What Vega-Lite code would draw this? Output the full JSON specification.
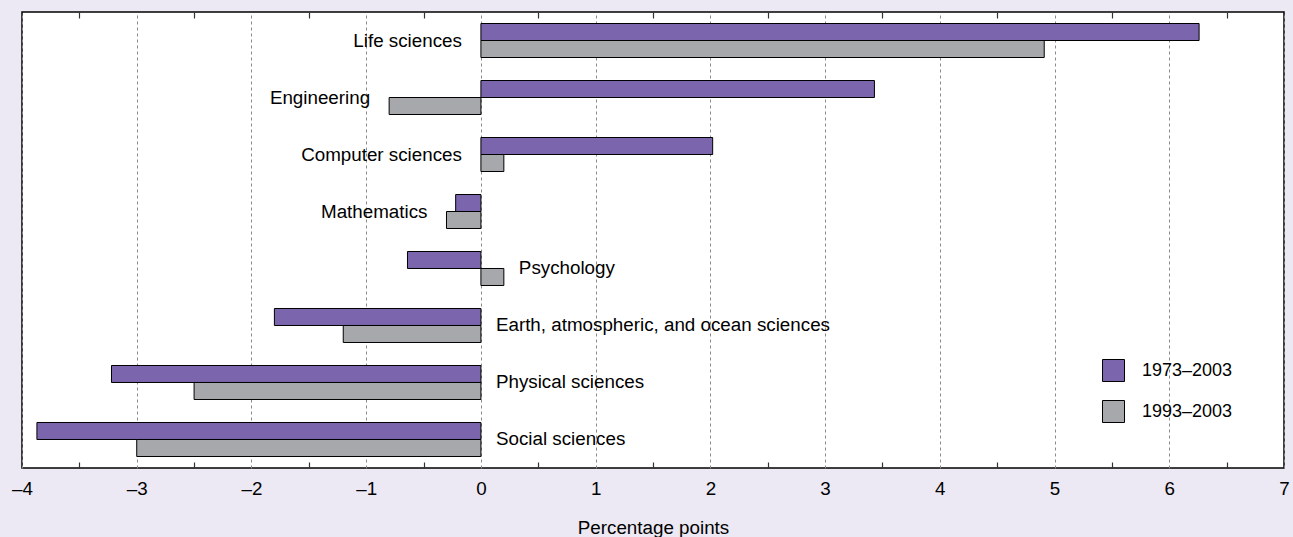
{
  "$schema": "https://vega.github.io/schema/vega-lite/v6.json",
  "width": 1262,
  "height": 456,
  "autosize": {"type": "none"},
  "padding": {"left": 22, "top": 12, "right": 9, "bottom": 69},
  "background": "#ece9f4",
  "view": {"fill": "white", "stroke": "black", "strokeWidth": 1.5},
  "config": {
    "font": "Liberation Sans",
    "text": {"font": "Liberation Sans", "fontSize": 18.8, "color": "black"},
    "legend": {"labelFont": "Liberation Sans"}
  },
  "datasets": {
    "bars": [
      {"field": "Life sciences", "period": "1973–2003", "value": 6.26},
      {"field": "Life sciences", "period": "1993–2003", "value": 4.91},
      {"field": "Engineering", "period": "1973–2003", "value": 3.43},
      {"field": "Engineering", "period": "1993–2003", "value": -0.8},
      {"field": "Computer sciences", "period": "1973–2003", "value": 2.02},
      {"field": "Computer sciences", "period": "1993–2003", "value": 0.2},
      {"field": "Mathematics", "period": "1973–2003", "value": -0.22},
      {"field": "Mathematics", "period": "1993–2003", "value": -0.3},
      {"field": "Psychology", "period": "1973–2003", "value": -0.64},
      {"field": "Psychology", "period": "1993–2003", "value": 0.2},
      {"field": "Earth, atmospheric, and ocean sciences", "period": "1973–2003", "value": -1.8},
      {"field": "Earth, atmospheric, and ocean sciences", "period": "1993–2003", "value": -1.2},
      {"field": "Physical sciences", "period": "1973–2003", "value": -3.22},
      {"field": "Physical sciences", "period": "1993–2003", "value": -2.5},
      {"field": "Social sciences", "period": "1973–2003", "value": -3.87},
      {"field": "Social sciences", "period": "1993–2003", "value": -3.0}
    ]
  },
  "layer": [
    {
      "data": {"name": "bars"},
      "mark": {"type": "bar", "stroke": "black", "strokeWidth": 1},
      "encoding": {
        "y": {
          "field": "field", "type": "nominal",
          "sort": ["Life sciences", "Engineering", "Computer sciences", "Mathematics", "Psychology", "Earth, atmospheric, and ocean sciences", "Physical sciences", "Social sciences"],
          "axis": null,
          "scale": {"paddingInner": 0.4035, "paddingOuter": 0.2018}
        },
        "yOffset": {
          "field": "period", "type": "nominal",
          "sort": ["1973–2003", "1993–2003"],
          "scale": {"paddingInner": 0, "paddingOuter": 0}
        },
        "x": {
          "field": "value", "type": "quantitative",
          "scale": {"domain": [-4, 7], "nice": false},
          "axis": {
            "orient": "bottom",
            "values": [-4, -3.5, -3, -2.5, -2, -1.5, -1, -0.5, 0, 0.5, 1, 1.5, 2, 2.5, 3, 3.5, 4, 4.5, 5, 5.5, 6, 6.5, 7],
            "labelExpr": "datum.value % 1 === 0 ? replace(replace(format(datum.value, 'd'), '−', '–'), '-', '–') : ''",
            "labelFontSize": 18.8,
            "labelColor": "black",
            "labelFont": "Liberation Sans",
            "labelPadding": 17.5,
            "labelFlush": false,
            "domain": false,
            "grid": true,
            "gridDash": [3, 3],
            "gridColor": "#8a8a8a",
            "gridWidth": 1,
            "gridOpacity": {"condition": {"test": "datum.value % 1 !== 0", "value": 0}, "value": 1},
            "ticks": true,
            "tickSize": -6,
            "tickColor": "#333333",
            "tickWidth": 1.2,
            "tickOpacity": {"condition": {"test": "datum.value % 1 === 0", "value": 0}, "value": 1},
            "title": "Percentage points",
            "titleFontSize": 18.8,
            "titleFontWeight": "normal",
            "titleColor": "black",
            "titleFont": "Liberation Sans",
            "titlePadding": 20
          }
        },
        "color": {
          "field": "period", "type": "nominal",
          "scale": {"domain": ["1973–2003", "1993–2003"], "range": ["#7b65ac", "#a7a8ab"]},
          "legend": {
            "orient": "none",
            "legendX": 1080,
            "legendY": 347,
            "title": null,
            "symbolType": "square",
            "symbolSize": 484,
            "symbolStrokeColor": "black",
            "symbolStrokeWidth": 1,
            "symbolOpacity": 1,
            "symbolFillOpacity": 1,
            "labelFontSize": 18,
            "labelColor": "black",
            "labelOffset": 17,
            "rowPadding": 14,
            "padding": 0
          }
        }
      }
    },
    {
      "mark": {"type": "rule", "color": "black", "strokeWidth": 1.5},
      "encoding": {
        "x": {
          "datum": 0, "type": "quantitative",
          "axis": {
            "orient": "top",
            "values": [-3.5, -2.5, -1.5, -0.5, 0.5, 1.5, 2.5, 3.5, 4.5, 5.5, 6.5],
            "labels": false,
            "domain": false,
            "grid": false,
            "ticks": true,
            "tickSize": -6,
            "tickColor": "#333333",
            "tickWidth": 1.2,
            "title": null
          }
        }
      }
    },
    {
      "data": {"name": "bars"},
      "transform": [
        {"aggregate": [{"op": "min", "field": "value", "as": "lo"}, {"op": "max", "field": "value", "as": "hi"}], "groupby": ["field"]},
        {"lookup": "field", "from": {"data": {"values": [
          {"field": "Life sciences", "side": "left"},
          {"field": "Engineering", "side": "left"},
          {"field": "Computer sciences", "side": "left"},
          {"field": "Mathematics", "side": "left"},
          {"field": "Psychology", "side": "right"},
          {"field": "Earth, atmospheric, and ocean sciences", "side": "right"},
          {"field": "Physical sciences", "side": "right"},
          {"field": "Social sciences", "side": "right"}
        ]}, "key": "field", "fields": ["side"]}},
        {"calculate": "datum.side === 'left' ? min(0, datum.lo) : max(0, datum.hi)", "as": "anchor"}
      ],
      "layer": [
        {
          "transform": [{"filter": "datum.side === 'left'"}],
          "mark": {"type": "text", "align": "right", "baseline": "middle", "dx": -19, "fontSize": 18.8, "font": "Liberation Sans", "color": "black"},
          "encoding": {
            "y": {"field": "field", "type": "nominal", "sort": ["Life sciences", "Engineering", "Computer sciences", "Mathematics", "Psychology", "Earth, atmospheric, and ocean sciences", "Physical sciences", "Social sciences"], "axis": null},
            "x": {"field": "anchor", "type": "quantitative", "axis": null},
            "text": {"field": "field"}
          }
        },
        {
          "transform": [{"filter": "datum.side === 'right'"}],
          "mark": {"type": "text", "align": "left", "baseline": "middle", "dx": 15, "fontSize": 18.8, "font": "Liberation Sans", "color": "black"},
          "encoding": {
            "y": {"field": "field", "type": "nominal", "sort": ["Life sciences", "Engineering", "Computer sciences", "Mathematics", "Psychology", "Earth, atmospheric, and ocean sciences", "Physical sciences", "Social sciences"], "axis": null},
            "x": {"field": "anchor", "type": "quantitative", "axis": null},
            "text": {"field": "field"}
          }
        }
      ]
    }
  ],
  "resolve": {"axis": {"x": "independent"}}
}
